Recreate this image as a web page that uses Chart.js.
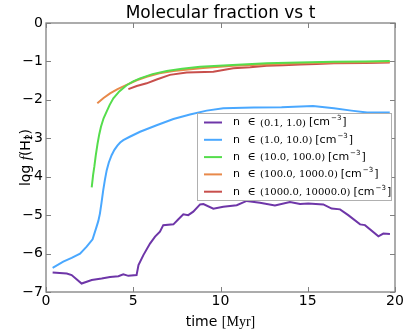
<!DOCTYPE html>
<html>
<head>
    <title>Molecular fraction vs t</title>
    <script src="https://cdn.jsdelivr.net/npm/chart.js"></script>
    <style>
        html, body { margin: 0; padding: 0; background: #fff; }
        .chart-container { width: 409px; height: 334px; position: relative; }
    </style>
</head>
<body>
    <div class="chart-container">
        <canvas id="h2Chart"></canvas>
    </div>

    <script>
        // density bins
        const binLabels = ['(0.1, 1.0)', '(1.0, 10.0)', '(10.0, 100.0)', '(100.0, 1000.0)', '(1000.0, 10000.0)'];
        const binColors = ['#6e36a8', '#4aa8ff', '#55dd4c', '#e8894a', '#c84f4c'];

        const xTicks = [0, 5, 10, 15, 20];
        const yTicks = [0, -1, -2, -3, -4, -5, -6, -7];

        // n in (0.1, 1.0)
        const tBin1 = [0.38, 1.19, 1.47, 2.04, 2.62, 3.19, 3.67, 4.15, 4.43, 4.72, 5.19, 5.3, 5.58, 5.96, 6.25, 6.53, 6.72, 7.3, 7.6, 7.87, 8.15, 8.44, 8.83, 9.02, 9.59, 10.16, 10.93, 11.5, 12.26, 13.12, 13.98, 14.56, 15.03, 15.89, 16.37, 16.85, 17.32, 18.0, 18.28, 19.05, 19.33, 19.71];
        const fBin1 = [-6.49, -6.52, -6.56, -6.78, -6.69, -6.65, -6.61, -6.59, -6.54, -6.58, -6.56, -6.3, -6.04, -5.74, -5.56, -5.43, -5.26, -5.24, -5.1, -4.98, -5.0, -4.91, -4.72, -4.71, -4.83, -4.78, -4.74, -4.63, -4.68, -4.75, -4.66, -4.71, -4.70, -4.72, -4.83, -4.85, -5.0, -5.24, -5.26, -5.55, -5.48, -5.49];

        // n in (1.0, 10.0)
        const tBin2 = [0.38, 0.99, 1.47, 1.95, 2.33, 2.67, 2.9, 3.0, 3.09, 3.18, 3.28, 3.38, 3.48, 3.6, 3.76, 3.92, 4.09, 4.25, 4.43, 4.8, 5.39, 6.34, 7.3, 8.25, 9.21, 10.16, 11.9, 13.5, 15.3, 16.5, 17.5, 18.4, 19.7];
        const fBin2 = [-6.37, -6.21, -6.11, -6.0, -5.82, -5.63, -5.30, -5.15, -4.96, -4.68, -4.35, -4.07, -3.83, -3.63, -3.44, -3.3, -3.19, -3.11, -3.05, -2.96, -2.83, -2.66, -2.5, -2.38, -2.28, -2.22, -2.2, -2.19, -2.16, -2.22, -2.28, -2.33, -2.33];

        // n in (10.0, 100.0)
        const tBin3 = [2.62, 2.7, 2.77, 2.85, 2.95, 3.05, 3.15, 3.3, 3.48, 3.65, 3.86, 4.2, 4.62, 5.0, 5.39, 6.1, 6.92, 7.8, 8.83, 10.7, 12.65, 14.5, 16.5, 18.3, 19.7];
        const fBin3 = [-4.28, -3.95, -3.74, -3.45, -3.15, -2.9, -2.7, -2.48, -2.3, -2.13, -1.96, -1.78, -1.62, -1.52, -1.44, -1.33, -1.25, -1.19, -1.14, -1.09, -1.05, -1.03, -1.01, -1.0, -0.99];

        // n in (100.0, 1000.0)
        const tBin4 = [2.94, 3.3, 3.67, 4.1, 4.62, 5.2, 5.77, 6.5, 7.3, 9.0, 10.73, 12.6, 14.56, 16.5, 18.3, 19.7];
        const fBin4 = [-2.09, -1.95, -1.83, -1.72, -1.61, -1.49, -1.4, -1.31, -1.25, -1.17, -1.11, -1.08, -1.05, -1.03, -1.02, -1.01];

        // n in (1000.0, 10000.0)
        const tBin5 = [4.72, 5.2, 5.77, 6.34, 7.1, 8.06, 9.59, 10.73, 11.7, 12.65, 13.6, 14.56, 15.5, 16.5, 18.3, 19.7];
        const fBin5 = [-1.72, -1.64, -1.57, -1.47, -1.35, -1.29, -1.27, -1.18, -1.15, -1.11, -1.1, -1.08, -1.07, -1.05, -1.04, -1.03];

        const times = [tBin1, tBin2, tBin3, tBin4, tBin5];
        const fracs = [fBin1, fBin2, fBin3, fBin4, fBin5];

        const MINUS = '\u2212';
        const fmt = v => (v < 0 ? MINUS + Math.abs(v) : String(v));

        // plot box in pixels (matches the reference figure)
        const box = { left: 46, right: 395, top: 23, bottom: 292 };

        const datasets = times.map((t, i) => ({
            label: binLabels[i],
            data: t.map((x, j) => ({ x: x, y: fracs[i][j] })),
            borderColor: binColors[i],
            backgroundColor: binColors[i],
            borderWidth: 2,
            pointRadius: 0,
            tension: 0,
            fill: false
        }));

        // frame, inward ticks, titles and legend drawn the matplotlib way
        const decorPlugin = {
            id: 'decor',
            afterDraw(chart) {
                const ctx = chart.ctx;
                const xs = chart.scales.x, ys = chart.scales.y;
                const a = chart.chartArea;
                ctx.save();

                ctx.strokeStyle = '#808080';
                ctx.lineWidth = 1.3;
                ctx.strokeRect(a.left, a.top, a.right - a.left, a.bottom - a.top);

                ctx.lineWidth = 1;
                ctx.beginPath();
                xTicks.forEach(v => {
                    const px = Math.round(xs.getPixelForValue(v)) + 0.5;
                    ctx.moveTo(px, a.bottom); ctx.lineTo(px, a.bottom - 5);
                    ctx.moveTo(px, a.top); ctx.lineTo(px, a.top + 5);
                });
                yTicks.forEach(v => {
                    const py = Math.round(ys.getPixelForValue(v)) + 0.5;
                    ctx.moveTo(a.left, py); ctx.lineTo(a.left + 5, py);
                    ctx.moveTo(a.right, py); ctx.lineTo(a.right - 5, py);
                });
                ctx.stroke();

                // title
                ctx.fillStyle = '#000';
                ctx.font = '17px "DejaVu Sans"';
                ctx.textAlign = 'center';
                ctx.textBaseline = 'alphabetic';
                ctx.fillText('Molecular fraction vs t', (a.left + a.right) / 2, 18);

                // x label: time [Myr]
                const p1 = 'time ', p2 = '[Myr]';
                ctx.font = '14px "Liberation Serif"';
                const w2 = ctx.measureText(p2).width;
                ctx.font = '14px "DejaVu Sans"';
                const w1 = ctx.measureText(p1).width;
                const sx = (a.left + a.right) / 2 - (w1 + w2) / 2;
                ctx.textAlign = 'left';
                ctx.fillText(p1, sx, 326);
                ctx.font = '14px "Liberation Serif"';
                ctx.fillText(p2, sx + w1, 326);

                // y label: log f(H2)
                ctx.save();
                ctx.translate(21, (a.top + a.bottom) / 2);
                ctx.rotate(-Math.PI / 2);
                const parts = [
                    ['log ', '14px "DejaVu Sans"', 0],
                    ['f', 'italic 15px "Liberation Serif"', 0],
                    ['(H', '14px "DejaVu Sans"', 0],
                    ['2', '9px "DejaVu Sans"', 4],
                    [')', '14px "DejaVu Sans"', 0]
                ];
                let total = 0;
                parts.forEach(p => { ctx.font = p[1]; total += ctx.measureText(p[0]).width; });
                let cx = -total / 2;
                ctx.textBaseline = 'middle';
                parts.forEach(p => {
                    ctx.font = p[1];
                    ctx.fillText(p[0], cx, 5 + p[2]);
                    cx += ctx.measureText(p[0]).width;
                });
                ctx.restore();

                // legend box
                const lx = 197, ly = 113, lw = 194, lh = 87;
                ctx.fillStyle = '#fff';
                ctx.fillRect(lx, ly, lw, lh);
                ctx.strokeStyle = '#b0b0b0';
                ctx.lineWidth = 1;
                ctx.strokeRect(lx + 0.5, ly + 0.5, lw, lh);
                ctx.textBaseline = 'middle';
                ctx.textAlign = 'left';
                binLabels.forEach((lab, i) => {
                    const yy = 122.5 + i * 17.3;
                    ctx.strokeStyle = binColors[i];
                    ctx.lineWidth = 2;
                    ctx.beginPath();
                    ctx.moveTo(204, yy); ctx.lineTo(222, yy);
                    ctx.stroke();
                    ctx.fillStyle = '#000';
                    ctx.font = '11px "DejaVu Sans"';
                    ctx.fillText('n', 233, yy);
                    ctx.font = '11px "DejaVu Serif"';
                    ctx.fillText('\u2208', 247.5, yy);
                    let tx = 260;
                    ctx.font = '10px "DejaVu Serif"';
                    ctx.fillText(lab, tx, yy + 0.5);
                    tx += ctx.measureText(lab).width + 3;
                    ctx.font = '11px "DejaVu Sans"';
                    ctx.fillText('[cm', tx, yy);
                    tx += ctx.measureText('[cm').width;
                    ctx.font = '7px "DejaVu Sans"';
                    ctx.fillText(MINUS + '3', tx + 1, yy - 4);
                    tx += ctx.measureText(MINUS + '3').width + 2;
                    ctx.font = '11px "DejaVu Sans"';
                    ctx.fillText(']', tx, yy);
                });

                ctx.restore();
            }
        };

        const fixWidth = (w) => function (scale) { scale.width = w; };
        const fixHeight = (h) => function (scale) { scale.height = h; };

        new Chart(document.getElementById('h2Chart').getContext('2d'), {
            type: 'line',
            data: { datasets: datasets },
            options: {
                responsive: true,
                maintainAspectRatio: false,
                animation: false,
                layout: { padding: { left: 0, right: 409 - box.right, top: box.top, bottom: 0 } },
                plugins: { legend: { display: false }, tooltip: { enabled: false } },
                scales: {
                    x: {
                        type: 'linear',
                        min: 0, max: 20,
                        afterFit: fixHeight(334 - box.bottom),
                        afterBuildTicks: s => { s.ticks = xTicks.map(v => ({ value: v })); },
                        grid: { display: false, drawTicks: false },
                        border: { display: false },
                        ticks: {
                            color: '#000',
                            padding: 1,
                            font: { family: 'DejaVu Sans', size: 14 },
                            callback: v => fmt(v)
                        }
                    },
                    y: {
                        type: 'linear',
                        min: -7, max: 0,
                        afterFit: fixWidth(box.left),
                        afterBuildTicks: s => { s.ticks = yTicks.map(v => ({ value: v })); },
                        grid: { display: false, drawTicks: false },
                        border: { display: false },
                        ticks: {
                            color: '#000',
                            padding: 3,
                            font: { family: 'DejaVu Sans', size: 14 },
                            callback: v => fmt(v)
                        }
                    }
                }
            },
            plugins: [decorPlugin]
        });
    </script>
</body>
</html>
